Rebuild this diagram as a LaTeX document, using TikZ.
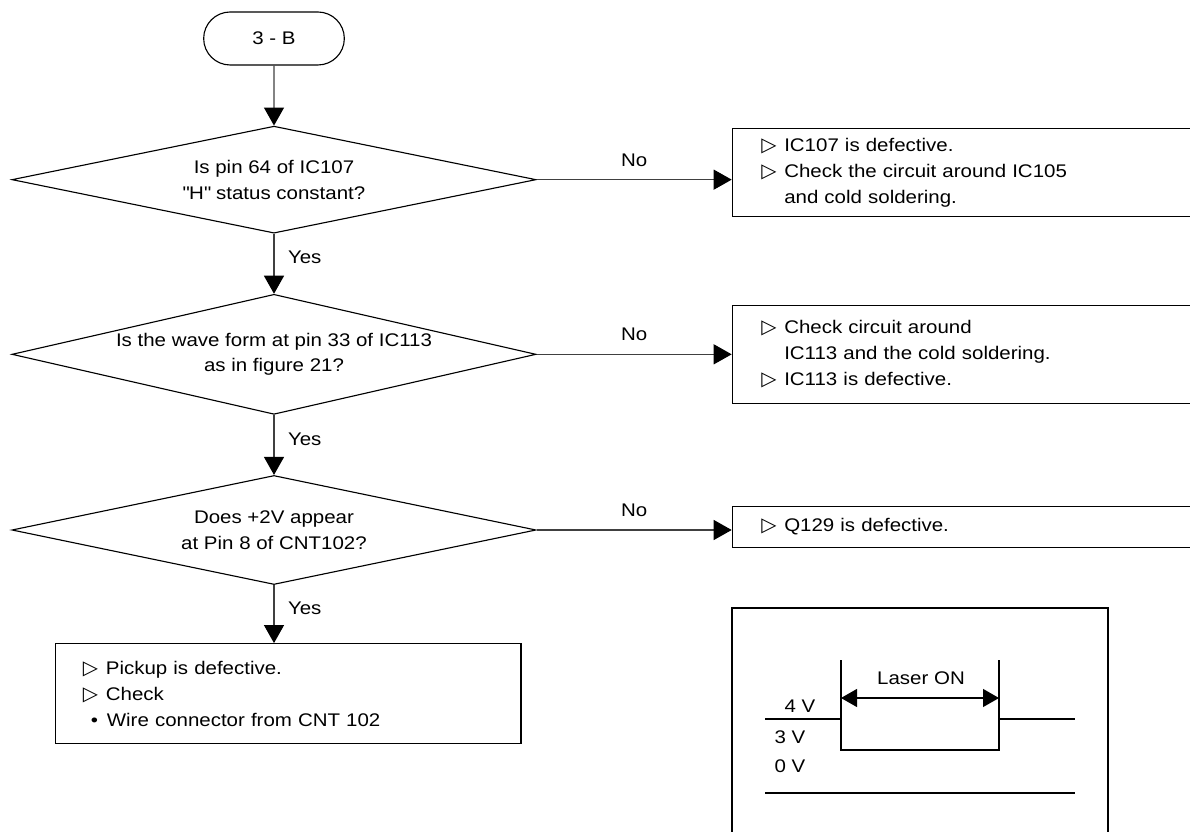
\documentclass[tikz,border=0pt]{standalone}
\usepackage{fontspec}
\setmainfont{Liberation Sans}[FakeStretch=1.12]
\newfontfamily\symfont{DejaVu Sans}
\usetikzlibrary{
    arrows.meta,
    positioning,
    shapes.geometric,
    shapes.misc
}

\newcommand{\tri}{\makebox[0.575cm][l]{\symfont\fontsize{14}{14}\selectfont ▷}}
\newcommand{\cont}{\hspace*{0.575cm}}
\newcommand{\dotitem}{\makebox[0.6cm][l]{\hspace{0.2cm}\textbullet}}

\begin{document}
\begin{tikzpicture}[
        x=0.025cm,
        y=-0.025cm,
        font=\fontsize{13}{18.4}\selectfont,
        line width=0.8pt,
        terminal/.style={
            rounded rectangle,
            draw,
            minimum width=3.75cm,
            minimum height=1.325cm
        },
        decision/.style={
            diamond,
            draw,
            minimum width=13.1cm,
            inner sep=0pt
        },
        result/.style={
            rectangle,
            draw,
            align=left,
            text width=10.5cm,
            inner xsep=0.725cm,
            inner ysep=0pt
        },
        line/.style={
            draw=black!75,
            -{Triangle[length=0.45cm, width=0.5cm, color=black]}
        },
        span/.style={
            {Triangle[length=0.4cm, width=0.45cm]}-{Triangle[length=0.4cm, width=0.45cm]}
        }
    ]

    \useasboundingbox (0,0) rectangle (1190,832);
    \clip (0,0) rectangle (1190,832);

    \node[terminal] (start) at (274,38.5) {3 - B};

    \node[decision, minimum height=2.675cm, below=1.5cm of start,
        label={[align=center]center:{Is pin 64 of IC107\\\textquotedbl H\textquotedbl{} status constant?}}] (q1) {};

    \node[decision, minimum height=3.0cm, below=1.5cm of q1,
        label={[align=center]center:{Is the wave form at pin 33 of IC113\\as in figure 21?}}] (q2) {};

    \node[decision, minimum height=2.725cm, below=1.5cm of q2,
        label={[align=center]center:{Does +2V appear\\at Pin 8 of CNT102?}}] (q3) {};

    \node[result, minimum height=2.2cm, right=4.875cm of q1, yshift=0.175cm] (r1)
        {\tri IC107 is defective.\\
         \tri Check the circuit around IC105\\
         \cont and cold soldering.};

    \node[result, minimum height=2.45cm, right=4.875cm of q2] (r2)
        {\tri Check circuit around\\
         \cont IC113 and the cold soldering.\\
         \tri IC113 is defective.};

    \node[result, minimum height=1.03cm, right=4.875cm of q3, yshift=0.075cm] (r3)
        {\tri Q129 is defective.};

    \node[result, text width=10.275cm, inner xsep=0.675cm, minimum height=2.5cm,
        below=1.45cm of q3, xshift=0.36cm] (r4)
        {\tri Pickup is defective.\\
         \tri Check\\
         \dotitem Wire connector from CNT 102};

    \draw[line] (start) -- (q1);
    \draw[line] (q1) -- node[right=0.22cm, pos=0.4] {Yes} (q2);
    \draw[line] (q2) -- node[right=0.22cm, pos=0.4] {Yes} (q3);
    \draw[line] (q3.south) -- node[right=0.22cm, pos=0.4] {Yes} (q3.south |- r4.north);

    \draw[line] (q1.east) -- node[above=0.2cm] {No} (q1.east -| r1.west);
    \draw[line] (q2.east) -- node[above=0.2cm] {No} (q2.east -| r2.west);
    \draw[line] (q3.east) -- node[above=0.2cm] {No} (q3.east -| r3.west);

    % figure 21
    \draw (732,608) rectangle (1108,850);
    \draw (765,719) -- (841,719) -- (841,750) -- (999,750) -- (999,719) -- (1075,719);
    \draw (841,719) -- (841,660);
    \draw (999,719) -- (999,660);
    \draw (765,793) -- (1075,793);
    \coordinate (onL) at (841,698);
    \coordinate (onR) at (999,698);
    \draw[span] (onL) -- (onR);
    \node (laser) at (921,678) {Laser ON};
    \node (v4) at (800,706) {4 V};
    \node (v3) at (790,737) {3 V};
    \node (v0) at (790,766) {0 V};

\end{tikzpicture}
\end{document}
